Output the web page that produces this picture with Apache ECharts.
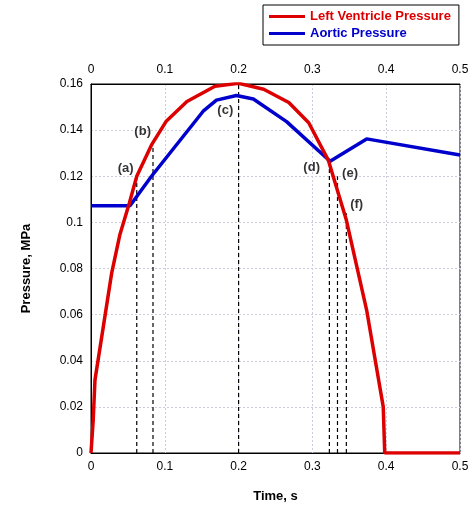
<!DOCTYPE html><html><head><meta charset="utf-8"><script src="https://cdn.jsdelivr.net/npm/echarts@6/dist/echarts.min.js"></script></head><body style="margin:0"><div id="c" style="width:474px;height:518px"></div><script>
const lvX=[0,0.003,0.0054,0.0167,0.028,0.039,0.052,0.062,0.082,0.1016,0.13,0.168,0.2,0.234,0.268,0.295,0.3215,0.346,0.3735,0.396,0.398,0.5];
const lvY=[0,0.0143,0.0317,0.0548,0.078,0.0945,0.1084,0.12,0.1336,0.1437,0.1524,0.159,0.1603,0.1577,0.152,0.1432,0.127,0.101,0.062,0.020,0,0];
const aoX=[0,0.0528,0.082,0.152,0.17,0.197,0.22,0.265,0.324,0.3735,0.5];
const aoY=[0.1072,0.1072,0.12,0.1482,0.153,0.155,0.1535,0.1437,0.1265,0.1362,0.1292];
const markX=[0.062,0.084,0.2,0.323,0.334,0.346];
const markTop=[0.12,0.133,0.16,0.1265,0.12,0.104];
const markNames=['(a)','(b)','(c)','(d)','(e)','(f)'];
const labX=[0.047,0.07,0.182,0.299,0.351,0.36];
const labY=[0.1235,0.1396,0.1484,0.1240,0.1212,0.1077];
const ch=echarts.init(document.getElementById('c'));
const series=[
{name:'Left Ventricle Pressure',type:'line',data:lvX.map((x,i)=>[x,lvY[i]]),symbol:'none',lineStyle:{color:'#dd0000',width:3.5},itemStyle:{color:'#dd0000'},z:5},
{name:'Aortic Pressure',type:'line',data:aoX.map((x,i)=>[x,aoY[i]]),symbol:'none',lineStyle:{color:'#0000cc',width:3.5},itemStyle:{color:'#0000cc'},z:4}];
markX.forEach((x,i)=>series.push({type:'line',data:[[x,0],[x,markTop[i]]],symbol:'none',silent:true,lineStyle:{color:'#000',width:1.2,type:[4,3]},z:3}));
series.push({type:'scatter',symbolSize:0,data:labX.map((x,i)=>({value:[x,labY[i]],name:markNames[i]})),label:{show:true,position:'inside',formatter:p=>p.name,fontWeight:'bold',fontSize:13,color:'#000',fontFamily:'Liberation Sans'},z:6});
const ax={min:0,max:0.5,interval:0.1,splitLine:{show:true,lineStyle:{color:'#ccd',type:[2,2]}},axisTick:{show:false},axisLine:{lineStyle:{color:'#000'}},axisLabel:{color:'#000',fontSize:12,fontFamily:'Liberation Sans',formatter:v=>String(+v.toFixed(2))}};
ch.setOption({animation:false,
grid:{left:91,right:14,top:84,bottom:65,show:true,borderColor:'#000',borderWidth:1},
legend:{data:[{name:'Left Ventricle Pressure',textStyle:{color:'#dd0000'}},{name:'Aortic Pressure',textStyle:{color:'#0000cc'}}],orient:'vertical',left:263,top:5,itemWidth:36,itemHeight:3,itemGap:4,padding:[5,8,5,6],borderColor:'#000',borderWidth:1,borderRadius:0,icon:'rect',
 textStyle:{fontWeight:'bold',fontSize:13,fontFamily:'Liberation Sans'}},
xAxis:[Object.assign({type:'value',position:'bottom',name:'Time, s',nameLocation:'middle',nameGap:37,nameTextStyle:{fontWeight:'bold',fontSize:13,fontFamily:'Liberation Sans',color:'#000'}},ax),
 Object.assign({type:'value',position:'top'},ax)],
yAxis:{type:'value',min:0,max:0.16,interval:0.02,name:'Pressure, MPa',nameLocation:'middle',nameGap:58,nameTextStyle:{fontWeight:'bold',fontSize:13,fontFamily:'Liberation Sans',color:'#000'},
 splitLine:{show:true,lineStyle:{color:'#ccd',type:[2,2]}},axisTick:{show:false},axisLine:{lineStyle:{color:'#000'}},axisLabel:{color:'#000',fontSize:12,fontFamily:'Liberation Sans',formatter:v=>String(+v.toFixed(2))}},
series});
</script></body></html>
